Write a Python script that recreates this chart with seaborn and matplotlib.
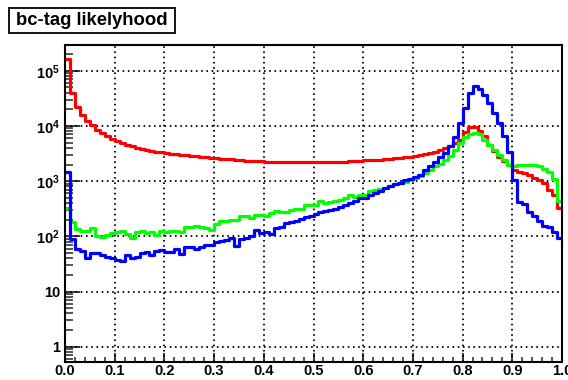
import numpy as np
import pandas as pd
import matplotlib
matplotlib.use("Agg")
import matplotlib.pyplot as plt
import seaborn as sns
from matplotlib.ticker import FixedLocator, LogLocator, MultipleLocator, FuncFormatter, NullFormatter
from matplotlib.patches import Rectangle

# bc-tag likelihood distributions, 100 bins on [0, 1]
n_bins = 100
x_min, x_max = 0.0, 1.0

# entries per bin for each jet sample
red_counts = [
    160000, 39000, 22000, 15500, 12300, 10300, 8600, 7500, 6600, 5900,
    5300, 4900, 4600, 4300, 4050, 3850, 3700, 3550, 3420, 3320,
    3230, 3130, 3050, 2980, 2920, 2860, 2800, 2750, 2700, 2650,
    2600, 2560, 2510, 2470, 2430, 2400, 2360, 2330, 2300, 2280,
    2260, 2250, 2240, 2240, 2230, 2220, 2210, 2200, 2200, 2190,
    2190, 2190, 2200, 2200, 2210, 2230, 2260, 2290, 2320, 2350,
    2370, 2400, 2430, 2460, 2500, 2550, 2600, 2660, 2720, 2780,
    2850, 2950, 3050, 3200, 3400, 3650, 3950, 4350, 4900, 5500,
    7800, 9600, 9600, 8100, 6500, 4600, 3500, 2700, 2300, 2000,
    1570, 1450, 1400, 1270, 1150, 1060, 910, 690, 550, 330,
]
green_counts = [
    320, 180, 136, 123, 126, 141, 102, 99, 107, 113,
    118, 123, 110, 94, 118, 123, 113, 118, 107, 123,
    118, 126, 126, 122, 145, 150, 157, 150, 141, 131,
    168, 187, 187, 198, 198, 237, 237, 216, 248, 248,
    237, 263, 291, 281, 272, 300, 315, 315, 376, 362,
    376, 435, 400, 420, 435, 460, 500, 570, 525, 550,
    570, 660, 700, 725, 760, 830, 870, 910, 960, 1060,
    1150, 1260, 1400, 1560, 1850, 2070, 2380, 2800, 3600, 4900,
    6200, 7100, 7500, 7100, 5600, 4470, 3600, 2930, 2450, 2000,
    1850, 1930, 2000, 2000, 1930, 1850, 1680, 1450, 1100, 435,
]
blue_counts = [
    1460, 88, 58, 54, 40, 50, 49, 46, 43, 40,
    37, 36, 45, 41, 43, 50, 52, 46, 54, 56,
    52, 52, 59, 48, 63, 63, 60, 63, 71, 71,
    78, 81, 86, 95, 68, 89, 95, 102, 130, 113,
    122, 110, 141, 145, 172, 180, 193, 207, 221, 237,
    253, 272, 291, 300, 315, 346, 362, 400, 445, 490,
    500, 550, 600, 660, 760, 800, 890, 910, 1060, 1100,
    1180, 1310, 1600, 1900, 2200, 2700, 3300, 4400, 6300, 11200,
    21000, 40000, 52000, 46000, 36000, 26000, 17200, 11300, 6700, 3400,
    1060, 415, 380, 275, 230, 187, 157, 146, 118, 95,
]

x_ticks = [0.0, 0.1, 0.2, 0.3, 0.4, 0.5, 0.6, 0.7, 0.8, 0.9, 1.0]
x_tick_labels = ["0.0", "0.1", "0.2", "0.3", "0.4", "0.5", "0.6", "0.7", "0.8", "0.9", "1.0"]
y_ticks = [1, 10, 100, 1000, 10000, 100000]
title_text = "bc-tag likelyhood"

edges = np.linspace(x_min, x_max, n_bins + 1)
centres = 0.5 * (edges[:-1] + edges[1:])
samples = {"#ff0000": red_counts, "#00ff00": green_counts, "#0000ff": blue_counts}

sns.set_theme(style="white")
plt.rcParams["font.family"] = ["Liberation Sans", "DejaVu Sans"]
plt.rcParams["mathtext.fontset"] = "custom"
plt.rcParams["mathtext.rm"] = "Liberation Sans:bold"
plt.rcParams["mathtext.bf"] = "Liberation Sans:bold"
plt.rcParams["mathtext.it"] = "Liberation Sans:bold"

W, H = 568, 380
fig = plt.figure(figsize=(W / 100, H / 100), dpi=100)
fig.patch.set_facecolor("white")
ax = fig.add_axes([65 / W, 18 / H, 497 / W, 317 / H])
ax.set_facecolor("white")
ax.set_yscale("log")

for colour, counts in samples.items():
    df = pd.DataFrame({"likelihood": centres, "entries": counts})
    sns.histplot(data=df, x="likelihood", weights="entries", bins=n_bins,
                 binrange=(x_min, x_max), element="step", fill=False,
                 color=colour, linewidth=2.3, ax=ax, zorder=3)

ax.set_xlim(x_min, x_max)
ax.set_ylim(0.528, 2.93e5)
ax.set_xlabel("")
ax.set_ylabel("")

# axes ticks, ROOT style: inward, bottom and left only
ax.xaxis.set_major_locator(FixedLocator(x_ticks))
ax.set_xticklabels(x_tick_labels)
ax.xaxis.set_minor_locator(MultipleLocator(0.02))
ax.yaxis.set_major_locator(FixedLocator(y_ticks))
ax.yaxis.set_minor_locator(LogLocator(base=10, subs=np.arange(2, 10)))
ax.yaxis.set_minor_formatter(NullFormatter())


def decade_label(v, pos):
    e = int(round(np.log10(v)))
    if e == 0:
        return "1"
    if e == 1:
        return "10"
    return r"$\mathbf{10^{%d}}$" % e


ax.yaxis.set_major_formatter(FuncFormatter(decade_label))

ax.tick_params(axis="x", which="major", direction="in", length=6.8, width=1.1,
               bottom=True, top=False, pad=1.5, labelsize=10.5, colors="black")
ax.tick_params(axis="x", which="minor", direction="in", length=3.4, width=1.1,
               bottom=True, top=False)
ax.tick_params(axis="y", which="major", direction="in", length=10.8, width=1.1,
               left=True, right=False, pad=3.5, labelsize=10.5, colors="black")
ax.tick_params(axis="y", which="minor", direction="in", length=5.4, width=1.1,
               left=True, right=False)
for lab in ax.get_xticklabels() + ax.get_yticklabels():
    lab.set_fontweight("bold")

ax.grid(True, which="major", axis="both", color="black",
        linestyle=(0, (0.9, 2.0)), linewidth=1.3)
ax.grid(False, which="minor")
ax.set_axisbelow(True)

for side in ["left", "right", "top", "bottom"]:
    ax.spines[side].set_visible(True)
    ax.spines[side].set_color("black")
    ax.spines[side].set_linewidth(1.5)
    ax.spines[side].set_zorder(5)

# title pave
box_x0, box_y0, box_w, box_h = 9, 8.3, 166, 24.4
fig.patches.append(Rectangle((box_x0 / W, 1 - (box_y0 + box_h) / H), box_w / W, box_h / H,
                             transform=fig.transFigure, facecolor="white",
                             edgecolor="black", linewidth=1.3))
fig.text((box_x0 + box_w / 2) / W, 1 - (box_y0 + box_h / 2) / H, title_text,
         ha="center", va="center", fontsize=13.3, fontweight="bold", color="black")

fig.savefig("out.png", dpi=100)
